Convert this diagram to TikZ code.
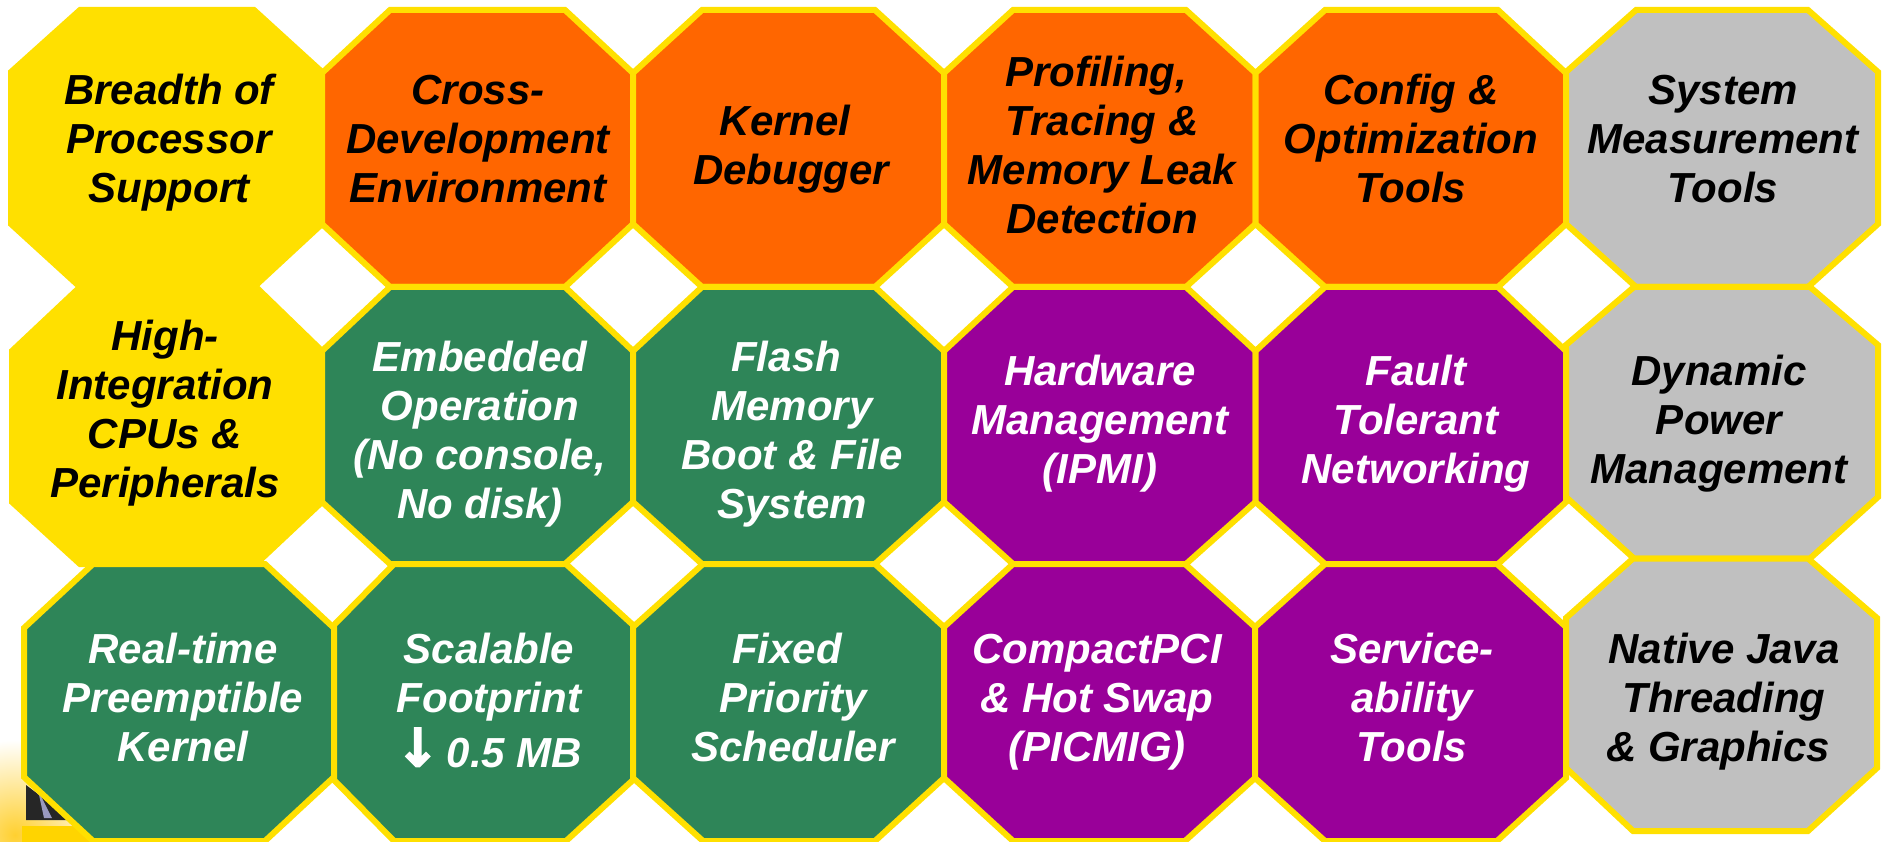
\documentclass[tikz,border=0pt]{standalone}
\usepackage{fontspec}
\setmainfont{Liberation Sans}
\newfontfamily\arrowfont[FakeBold=3,Scale=1.25]{DejaVu Sans}
\definecolor{octyellow}{HTML}{FFE000}
\definecolor{octorange}{HTML}{FF6600}
\definecolor{octgreen}{HTML}{2E8558}
\definecolor{octpurple}{HTML}{990099}
\definecolor{octgray}{HTML}{C0C0C0}
\definecolor{logogold}{HTML}{FFD030}
\newcommand\ls{\vrule height34pt depth15pt width0pt\relax}
\newcommand\tsp{\kern11.7pt\relax}
% style, left, right, top, bottom, x1, x2, y1, y2
\newcommand\octa[9]{\draw[#1] (#6,#4) -- (#7,#4) -- (#3,#8) -- (#3,#9) -- (#7,#5) -- (#6,#5) -- (#2,#9) -- (#2,#8) -- cycle;}
\tikzset{
  octbase/.style={draw=octyellow,line width=6pt,miter limit=3,line join=miter},
  yellowoct/.style={octbase,fill=octyellow},
  orangeoct/.style={octbase,fill=octorange},
  greenoct/.style={octbase,fill=octgreen},
  purpleoct/.style={octbase,fill=octpurple},
  grayoct/.style={octbase,fill=octgray},
  lab/.style={anchor=north,inner sep=0pt,outer sep=0pt,align=center,
    font=\fontsize{42}{49}\selectfont\bfseries\itshape},
  blk/.style={lab,text=black},
  wht/.style={lab,text=white}
}
\begin{document}
\begin{tikzpicture}[x=1pt,y=-1pt]
\useasboundingbox (0,0) rectangle (1887,842);
% logo fragment behind the lower-left octagon
\shade[inner color=logogold,outer color=white] (15,835) circle (95);
\fill[octyellow!88!orange] (22,826) rectangle (95,842);
\fill[black!85] (26,785) -- (26,820) -- (72,820) -- cycle;
\fill[white!70!blue!50!gray] (38,790) -- (52,818) -- (44,818) -- cycle;
% row 1
\octa{yellowoct}{11}{322}{10}{287}{80}{254}{72}{224}
\octa{orangeoct}{322}{633}{10}{287}{390}{565}{73}{224}
\octa{orangeoct}{633}{944}{10}{287}{702}{875}{73}{224}
\octa{orangeoct}{944}{1255.5}{10}{287}{1013}{1186}{73}{224}
\octa{orangeoct}{1255.5}{1566}{10}{287}{1325}{1498}{73}{224}
\octa{grayoct}{1566}{1878}{10}{287}{1636}{1808}{72}{224}
% row 2
\octa{yellowoct}{12}{322}{287}{564}{80}{256}{351}{502}
\octa{greenoct}{322}{633}{287}{564}{390}{565}{351}{502}
\octa{greenoct}{633}{944}{287}{564}{702}{875}{351}{502}
\octa{purpleoct}{944}{1255.5}{287}{564}{1013}{1186}{351}{502}
\octa{purpleoct}{1255.5}{1566}{287}{564}{1325}{1498}{351}{502}
\octa{grayoct}{1566}{1878}{287}{558.5}{1634}{1810}{345}{497}
% row 3
\octa{greenoct}{24}{334}{564}{841}{93}{265}{628}{777}
\octa{greenoct}{334}{633}{564}{841}{394}{566}{625}{780}
\octa{greenoct}{633}{944}{564}{841}{703}{875}{627}{778}
\octa{purpleoct}{944}{1255}{564}{841}{1013}{1185}{627}{778}
\octa{purpleoct}{1255}{1566}{564}{841}{1325}{1497}{627}{778}
\octa{grayoct}{1566}{1877}{558.5}{831}{1633}{1808}{618}{768}
% labels
\node[blk] (breadth) at (169,71) {\ls Breadth of\\\ls Processor\\\ls Support};
\node[blk] (cross) at (478,71) {\ls Cross-\\\ls Development\\\ls Environment};
\node[blk] (kdb) at (791,102) {\ls Kernel\tsp\\\ls Debugger};
\node[blk] (prof) at (1102,53) {\ls Profiling,\tsp\\\ls Tracing \&\\\ls Memory Leak\\\ls Detection};
\node[blk] (config) at (1411,71) {\ls Config \&\\\ls Optimization\\\ls Tools};
\node[blk] (sysm) at (1723,71) {\ls System\\\ls Measurement\\\ls Tools};
\node[blk] (high) at (165,316) {\ls High-\\\ls Integration\\\ls CPUs \&\\\ls Peripherals};
\node[wht] (emb) at (480,337) {\ls Embedded\\\ls Operation\\\ls (No console,\\\ls No disk)};
\node[wht] (flash) at (792,337) {\ls Flash\tsp\\\ls Memory\\\ls Boot \& File\\\ls System};
\node[wht] (hw) at (1100,351) {\ls Hardware\\\ls Management\\\ls (IPMI)};
\node[wht] (fault) at (1416,351) {\ls Fault\\\ls Tolerant\\\ls Networking};
\node[blk] (dyn) at (1719,351) {\ls Dynamic\\\ls Power\\\ls Management};
\node[wht] (rt) at (183,629) {\ls Real-time\\\ls Preemptible\\\ls Kernel};
\node[wht] (scal) at (489,629) {\ls Scalable\\\ls Footprint\\\ls \raisebox{1pt}{\arrowfont\upshape ↓}\kern7pt 0.5 MB};
\node[wht] (fixed) at (793,629) {\ls Fixed\tsp\\\ls Priority\\\ls Scheduler};
\node[wht] (cpci) at (1097,629) {\ls CompactPCI\\\ls \& Hot Swap\\\ls (PICMIG)};
\node[wht] (serv) at (1412,629) {\ls Service-\\\ls ability\\\ls Tools};
\node[blk] (java) at (1724,629) {\ls Native Java\\\ls Threading\\\ls \& Graphics\tsp};
\end{tikzpicture}
\end{document}
